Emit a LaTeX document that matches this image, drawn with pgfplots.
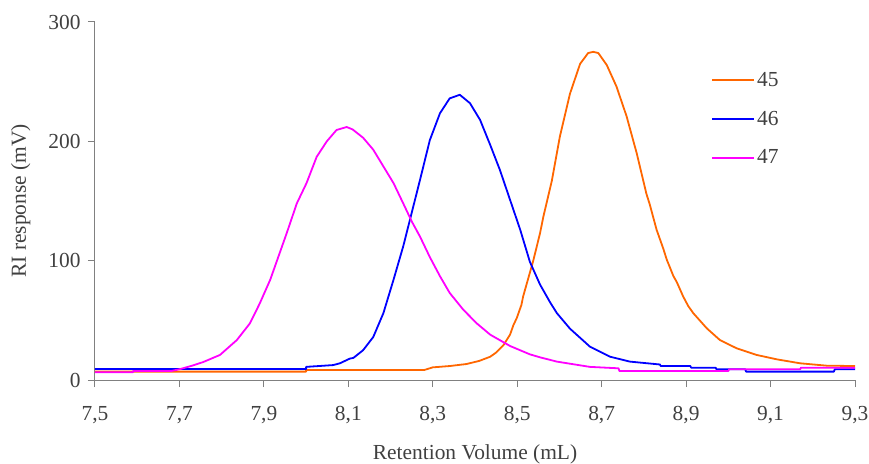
\documentclass[border=0pt]{standalone}
\usepackage{pgfplots}
\pgfplotsset{compat=1.18}
\usepackage{fontspec}
\setmainfont{Liberation Serif}
\definecolor{txt}{RGB}{64,64,64}
\definecolor{axgray}{RGB}{128,128,128}
\definecolor{c45}{RGB}{255,102,0}
\definecolor{c46}{RGB}{0,0,255}
\definecolor{c47}{RGB}{255,0,255}
\newcommand{\ff}{\fontsize{21.5}{25}\selectfont}
\begin{document}
\begin{tikzpicture}
\begin{axis}[
  scale only axis, width=760bp, height=358bp,
  xmin=7.5, xmax=9.3, ymin=0, ymax=300,
  axis x line*=bottom, axis y line*=left,
  axis line style={axgray, line width=1bp},
  every tick/.style={axgray, line width=1bp},
  tick align=outside, major tick length=7bp,
  xtick={7.5,7.7,7.9,8.1,8.3,8.5,8.7,8.9,9.1,9.3},
  ytick={0,100,200,300},
  x tick label style={/pgf/number format/fixed, /pgf/number format/fixed zerofill, /pgf/number format/precision=1, /pgf/number format/use comma, yshift=-16bp},
  y tick label style={xshift=-4bp},
  /pgf/number format/assume math mode=true,
  tick label style={font=\ff, text=txt},
  label style={font=\ff, text=txt},
  xlabel={Retention Volume (mL)},
  ylabel={RI response (mV)},
  xlabel style={yshift=-14bp},
  ylabel style={yshift=11bp},
  legend style={draw=none, fill=none, font=\ff, text=txt, at={(rel axis cs:0.8105,0.865)}, anchor=north west, row sep=19bp, inner sep=0pt},
  legend cell align=left,
  legend image code/.code={\draw[#1, line width=2bp] (0bp,0bp) -- (42bp,0bp);},
  every axis plot/.append style={line width=1.8bp, line join=round},
]
\addplot[c45] coordinates {(7.5,7)(8.0,7)(8.0,8.4)(8.28,8.4)(8.3,10.6)(8.34,11.7)(8.38,13.4)(8.41,16)(8.436,19.5)(8.45,23)(8.467,29)(8.483,38)(8.491,46)(8.499,52)(8.51,63)(8.514,70)(8.522,80)(8.538,100)(8.554,123)(8.562,137)(8.582,167)(8.601,204)(8.625,240)(8.649,265)(8.668,274)(8.68,275)(8.692,274)(8.712,264)(8.735,246)(8.759,221)(8.783,190)(8.806,156)(8.814,147)(8.83,126)(8.846,110)(8.854,101)(8.87,87)(8.878,82)(8.893,70)(8.905,62)(8.917,56)(8.949,43.3)(8.98,33.5)(9.02,26.5)(9.067,21)(9.115,17.3)(9.17,14)(9.233,12)(9.3,11.7)};
\addlegendentry{45}
\addplot[c46] coordinates {(7.5,9.2)(8.0,9.2)(8.0,11)(8.064,12.5)(8.08,14)(8.104,18)(8.112,18.5)(8.135,25)(8.159,36)(8.183,56)(8.207,84)(8.23,112)(8.25,140)(8.27,168)(8.293,201)(8.317,223.5)(8.34,236)(8.364,239)(8.388,232)(8.412,218)(8.436,197)(8.459,176)(8.483,151)(8.507,126)(8.53,99)(8.554,80)(8.578,65)(8.594,56)(8.625,43)(8.672,28)(8.72,19.5)(8.767,15.4)(8.838,13)(8.84,11.7)(8.91,11.7)(8.912,10.3)(8.97,10.3)(8.972,9)(9.04,9)(9.042,7)(9.25,7)(9.252,9)(9.3,9)};
\addlegendentry{46}
\addplot[c47] coordinates {(7.5,6.5)(7.59,6.5)(7.59,7.5)(7.68,7.5)(7.70,9)(7.73,12)(7.756,15)(7.796,21)(7.836,33.5)(7.867,47.5)(7.89,64)(7.915,84)(7.934,103)(7.954,123)(7.978,148)(8.001,165)(8.025,187)(8.049,200)(8.072,209.5)(8.096,212)(8.11,210)(8.135,203)(8.159,193)(8.183,179)(8.207,165)(8.23,148)(8.25,133)(8.27,120)(8.293,103)(8.317,87)(8.34,73)(8.372,59)(8.404,47.5)(8.436,38)(8.483,28.5)(8.53,21.5)(8.554,19)(8.594,15.4)(8.672,11)(8.74,9.8)(8.742,7.5)(9.0,7.5)(9.002,9)(9.17,9)(9.172,10.3)(9.3,10.3)};
\addlegendentry{47}
\coordinate (o) at (rel axis cs:0,0);
\coordinate (ne) at (rel axis cs:1,1);
\end{axis}
\pgfresetboundingbox
\path[use as bounding box] ([shift={(-95bp,-84bp)}]o) rectangle ([shift={(14bp,22bp)}]ne);
\end{tikzpicture}
\end{document}
